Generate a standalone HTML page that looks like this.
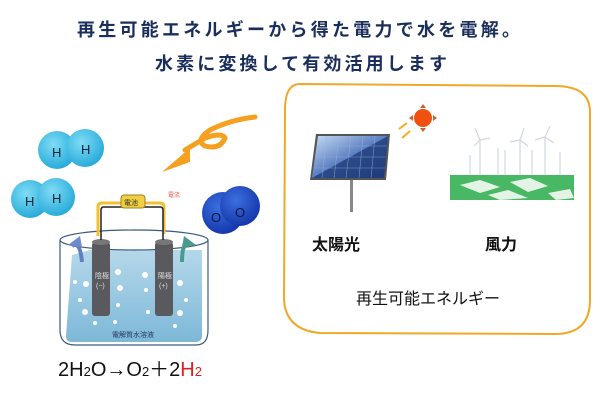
<!DOCTYPE html>
<html><head><meta charset="utf-8"><style>
body{margin:0;width:600px;height:400px;background:#fff;overflow:hidden;font-family:"Liberation Sans","Noto Sans CJK JP",sans-serif}
</style></head><body>
<svg width="600" height="400" viewBox="0 0 600 400" xmlns="http://www.w3.org/2000/svg" font-family="Liberation Sans, Noto Sans CJK JP, sans-serif">
<defs>
<radialGradient id="hg" cx="0.4" cy="0.35" r="0.7"><stop offset="0" stop-color="#7fdcf5"/><stop offset="1" stop-color="#22a8d8"/></radialGradient>
<radialGradient id="og" cx="0.4" cy="0.35" r="0.7"><stop offset="0" stop-color="#3c6fe0"/><stop offset="1" stop-color="#1234a8"/></radialGradient>
<linearGradient id="wg" x1="0" y1="0" x2="0" y2="1"><stop offset="0" stop-color="#b5d8ea"/><stop offset="1" stop-color="#7db8d8"/></linearGradient>
<linearGradient id="pg" x1="0" y1="0" x2="1" y2="1"><stop offset="0" stop-color="#c8dcf5"/><stop offset="0.5" stop-color="#5a7ec0"/><stop offset="0.5" stop-color="#2c4a8a"/><stop offset="1" stop-color="#1e3a78"/></linearGradient>
</defs>
<text x="77" y="36" font-size="18" fill="#1a2e5c" textLength="443" font-weight="bold">再生可能エネルギーから得た電力で水を電解。</text>
<text x="155" y="70" font-size="18" fill="#1a2e5c" textLength="292" font-weight="bold">水素に変換して有効活用します</text>
<!-- right box -->
<path d="M300 84 Q285 84 285 110 L284 300 Q286 330 320 333 L555 334 Q590 334 590 300 L590 112 Q590 86 555 86 Z" fill="none" stroke="#f0a828" stroke-width="2"/>
<!-- solar -->
<polygon points="316,134 390,134 386,180 310,180" fill="#555"/>
<polygon points="318,136 388,136 384,178 312,178" fill="url(#pg)"/>
<g stroke="#9cb4dc" stroke-width="0.6" opacity="0.7">
<line x1="327" y1="136" x2="322" y2="178"/><line x1="339" y1="136" x2="334" y2="178"/><line x1="351" y1="136" x2="346" y2="178"/><line x1="363" y1="136" x2="359" y2="178"/><line x1="375" y1="136" x2="371" y2="178"/>
<line x1="317" y1="146" x2="387" y2="146"/><line x1="316" y1="157" x2="386" y2="157"/><line x1="314" y1="168" x2="385" y2="168"/>
</g>
<rect x="350" y="180" width="3" height="32" fill="#888"/>
<circle cx="423" cy="118" r="9" fill="#f05010"/>
<g fill="#d06030"><polygon points="423,104 420,108 426,108"/><polygon points="423,132 420,128 426,128"/><polygon points="409,118 413,115 413,121"/><polygon points="437,118 433,115 433,121"/></g>
<path d="M407 123 L399 129" stroke="#f0b020" stroke-width="2"/><path d="M410 131 L402 138" stroke="#f0b020" stroke-width="2"/>
<!-- wind -->
<polygon points="450,175 574,175 574,200 450,200" fill="#49b864"/>
<g fill="#fff" opacity="0.85"><polygon points="460,185 480,180 500,187 480,193"/><polygon points="510,182 530,178 548,186 528,192"/><polygon points="488,195 508,190 528,198 500,200"/><polygon points="548,193 570,189 574,198 556,200"/></g>
<g stroke="#d0d8e0" stroke-width="1.2">
<line x1="480" y1="140" x2="480" y2="175"/><line x1="498" y1="148" x2="498" y2="175"/><line x1="520" y1="140" x2="520" y2="175"/><line x1="545" y1="137" x2="545" y2="175"/><line x1="505" y1="150" x2="505" y2="175"/><line x1="532" y1="150" x2="532" y2="175"/><line x1="560" y1="152" x2="560" y2="175"/><line x1="470" y1="155" x2="470" y2="175"/>
<path d="M480 140 L475 128 M480 140 L490 138 M480 140 L474 146 M520 140 L524 128 M520 140 L528 146 M520 140 L510 142 M545 137 L550 126 M545 137 L554 143 M545 137 L535 140"/>
</g>
<text x="312" y="250" font-size="16" font-weight="bold" fill="#111">太陽光</text>
<text x="485" y="250" font-size="16" font-weight="bold" fill="#111">風力</text>
<text x="356" y="304" font-size="16" fill="#111">再生可能エネルギー</text>
<!-- orange arrow -->
<path d="M255 117 Q230 120 210 130 Q195 140 205 146 Q220 150 225 138 Q222 132 205 138 L185 150" fill="none" stroke="#f5a020" stroke-width="5" stroke-linecap="round"/>
<polygon points="162,172 190,148 190,162" fill="#f5a020"/>
<!-- H2 molecules -->
<circle cx="57" cy="150" r="19" fill="url(#hg)"/><circle cx="85" cy="148" r="19" fill="url(#hg)"/>
<text x="52" y="157" font-size="13" fill="#123">H</text><text x="81" y="154" font-size="13" fill="#123">H</text>
<circle cx="30" cy="199" r="19" fill="url(#hg)"/><circle cx="56" cy="197" r="19" fill="url(#hg)"/>
<text x="25" y="206" font-size="13" fill="#123">H</text><text x="52" y="203" font-size="13" fill="#123">H</text>
<!-- O2 -->
<circle cx="223" cy="213" r="21" fill="url(#og)"/><circle cx="240" cy="206" r="20" fill="url(#og)"/>
<text x="211" y="222" font-size="13" fill="#0a1a40">O</text><text x="235" y="217" font-size="13" fill="#0a1a40">O</text>
<!-- beaker -->
<path d="M72 255 L90 250 L202 250 L202 336 Q202 342 195 342 L72 342 Q66 342 66 336 Z" fill="url(#wg)"/>
<path d="M60 240 L60 330 Q60 345 75 345 L196 345 Q208 345 208 330 L208 240" fill="none" stroke="#3a5a80" stroke-width="1.2"/>
<ellipse cx="134" cy="240" rx="74" ry="10" fill="none" stroke="#3a5a80" stroke-width="1.2"/>
<g fill="#fff"><circle cx="75" cy="282" r="2"/><circle cx="86" cy="284" r="3"/><circle cx="80" cy="300" r="2"/><circle cx="85" cy="312" r="3"/><circle cx="118" cy="272" r="3"/><circle cx="120" cy="288" r="3"/><circle cx="118" cy="305" r="2"/><circle cx="145" cy="275" r="3"/><circle cx="146" cy="290" r="2"/><circle cx="148" cy="312" r="2"/><circle cx="180" cy="283" r="3"/><circle cx="186" cy="300" r="2"/><circle cx="180" cy="313" r="3"/><circle cx="95" cy="323" r="2"/><circle cx="115" cy="322" r="2"/><circle cx="175" cy="326" r="2"/></g>
<path d="M72 246 Q80 240 82 262" fill="none" stroke="#6080c0" stroke-width="4"/><polygon points="68,245 80,236 82,247" fill="#6d8ccc"/>
<path d="M190 246 Q182 240 182 262" fill="none" stroke="#4a9a90" stroke-width="4"/><polygon points="196,245 184,236 182,247" fill="#4a9a90"/>
<rect x="92" y="242" width="18" height="74" rx="3" fill="#5a5a5e"/><ellipse cx="101" cy="242" rx="9" ry="3" fill="#777"/>
<rect x="155" y="242" width="18" height="74" rx="3" fill="#5a5a5e"/><ellipse cx="164" cy="242" rx="9" ry="3" fill="#777"/>
<text x="95" y="278" font-size="7" fill="#ddd">陰極</text><text x="96" y="288" font-size="7" fill="#ddd">(−)</text>
<text x="158" y="278" font-size="7" fill="#ddd">陽極</text><text x="159" y="288" font-size="7" fill="#ddd">(+)</text>
<text x="112" y="337" font-size="7" fill="#2a3a60">電解質水溶液</text>
<path d="M98 236 L98 207 Q98 203 102 203 L160 203 Q164 203 164 207 L164 234" fill="none" stroke="#f0c030" stroke-width="3"/>
<path d="M101 240 L101 210 Q101 207 104 207 L160 207 Q163 207 163 210 L163 240" fill="none" stroke="#222" stroke-width="1.5"/>
<rect x="121" y="195" width="24" height="13" rx="3" fill="#f0d040" stroke="#a08020"/>
<text x="124" y="205" font-size="7" fill="#333">電池</text>
<text x="168" y="197" font-size="6" fill="#e06050">電流</text>
<text x="58" y="376" font-size="20" fill="#111">2H<tspan font-size="13">2</tspan>O→O<tspan font-size="13">2</tspan>＋2<tspan fill="#e02020">H<tspan font-size="13">2</tspan></tspan></text>
</svg>
</body></html>
